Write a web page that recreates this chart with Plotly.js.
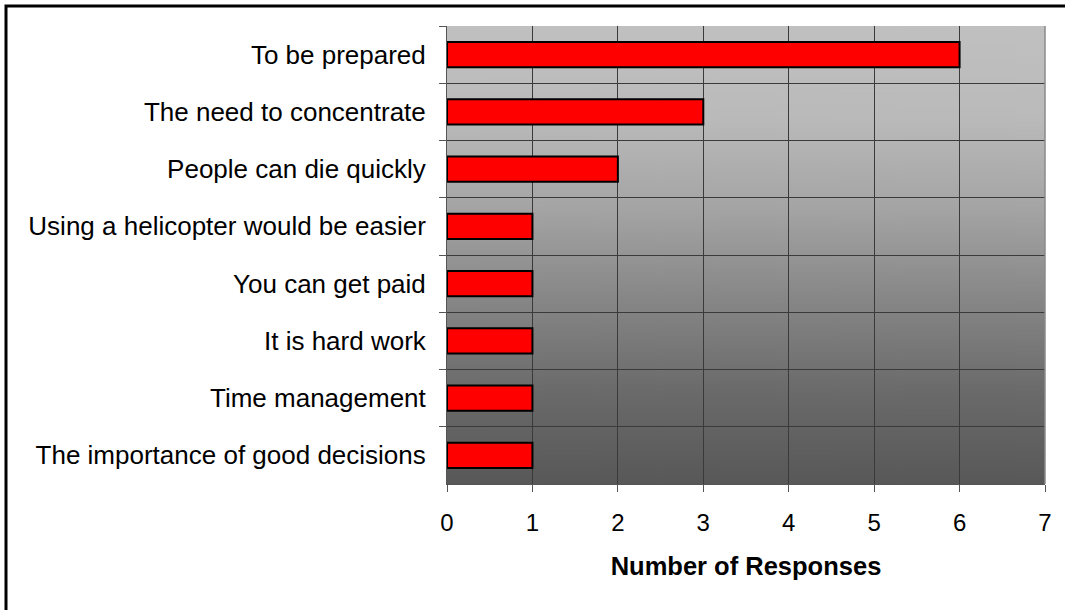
<!DOCTYPE html>
<html>
<head>
<meta charset="utf-8">
<script src="https://cdn.plot.ly/plotly-3.0.1.min.js"></script>
<style>html,body{margin:0;padding:0;background:#fff;}#chart{width:1065px;height:610px;}</style>
</head>
<body>
<div id="chart"></div>
<script>
const categories = [
  "To be prepared",
  "The need to concentrate",
  "People can die quickly",
  "Using a helicopter would be easier",
  "You can get paid",
  "It is hard work",
  "Time management",
  "The importance of good decisions"
];
const responses = [6, 3, 2, 1, 1, 1, 1, 1];
const xTickValues = [0, 1, 2, 3, 4, 5, 6, 7];

// gradient background image for the plot area
const cv = document.createElement('canvas');
cv.width = 10; cv.height = 458;
const ctx = cv.getContext('2d');
const g = ctx.createLinearGradient(0, 0, 0, 458);
g.addColorStop(0.00, '#c0c0c0');
g.addColorStop(0.20, '#bababa');
g.addColorStop(0.40, '#a4a4a4');
g.addColorStop(0.60, '#868686');
g.addColorStop(0.80, '#6a6a6a');
g.addColorStop(1.00, '#585858');
ctx.fillStyle = g;
ctx.fillRect(0, 0, 10, 458);
const bgURL = cv.toDataURL('image/png');

const font = 'Liberation Sans, Arial, sans-serif';

const trace = {
  type: 'bar',
  orientation: 'h',
  x: responses,
  y: categories,
  width: 0.44,
  marker: {color: '#ff0000', line: {color: '#000000', width: 2}},
  hoverinfo: 'x+y'
};

const layout = {
  width: 1065, height: 610,
  margin: {l: 447, r: 20, t: 26, b: 126, pad: 0},
  paper_bgcolor: '#ffffff',
  plot_bgcolor: 'rgba(0,0,0,0)',
  showlegend: false,
  font: {family: font, color: '#000', size: 26},
  xaxis: {
    range: [0, 7],
    tickvals: xTickValues,
    ticks: 'outside', ticklen: 7, tickcolor: '#555', tickwidth: 1,
    showgrid: true, gridcolor: '#3a3a3a', gridwidth: 1,
    showline: true, linecolor: '#555', linewidth: 1,
    zeroline: false,
    tickfont: {family: font, size: 24, color: '#000'},
    ticklabelstandoff: 10,
    title: {text: '<b>Number of Responses</b>', font: {family: font, size: 25.5, color: '#000'}, standoff: 22},
    fixedrange: true
  },
  yaxis: {
    type: 'category',
    autorange: 'reversed',
    tickson: 'boundaries',
    ticks: 'outside', ticklen: 7, tickcolor: '#555', tickwidth: 1,
    showgrid: true, gridcolor: '#3a3a3a', gridwidth: 1,
    showline: true, linecolor: '#555', linewidth: 1,
    tickfont: {family: font, size: 26, color: '#000'},
    ticklabelstandoff: 15,
    fixedrange: true
  },
  images: [{
    source: bgURL, xref: 'paper', yref: 'paper',
    x: 0, y: 1, sizex: 1, sizey: 1, xanchor: 'left', yanchor: 'top',
    sizing: 'stretch', layer: 'below'
  }],
  shapes: [
    {type: 'line', xref: 'paper', yref: 'paper', x0: 1, x1: 1, y0: 0, y1: 1, line: {color: '#8a8a8a', width: 1.5}},
    {type: 'rect', xref: 'paper', yref: 'paper',
     x0: (6 - 447) / 598, x1: 1.06, y0: -0.3, y1: 1 + 20 / 458,
     line: {color: '#000', width: 3}, fillcolor: 'rgba(0,0,0,0)'}
  ]
};

Plotly.newPlot('chart', [trace], layout, {displayModeBar: false, staticPlot: true});
</script>
</body>
</html>
